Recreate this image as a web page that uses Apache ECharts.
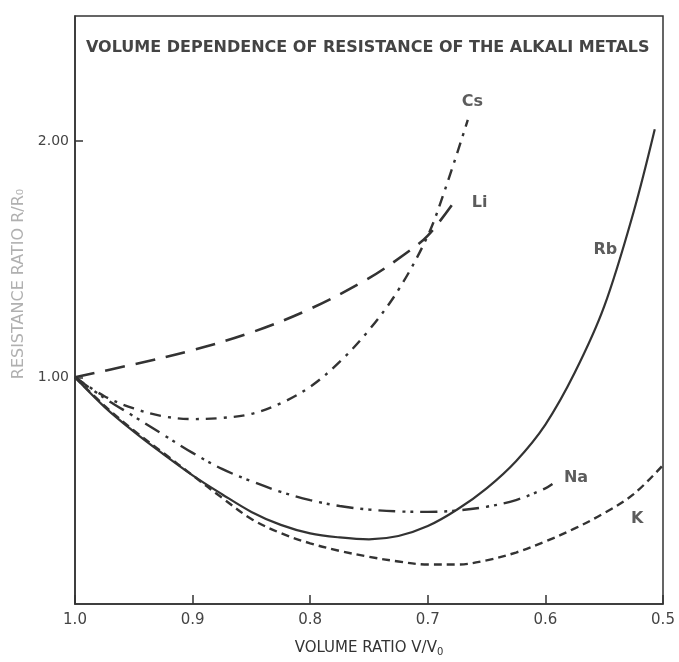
<!DOCTYPE html>
<html><head><meta charset="utf-8">
<script src="https://cdn.jsdelivr.net/npm/echarts@6/dist/echarts.min.js"></script>
<style>html,body{margin:0;padding:0;background:#fff}#c{width:679px;height:662px}</style>
</head><body><div id="c"></div>
<script>
// ---- data ----
const xTickValues = [1.0, 0.9, 0.8, 0.7, 0.6, 0.5];
const yTickValues = [1.0, 2.0];

const liV = [1.0, 0.95, 0.9, 0.85, 0.8, 0.75, 0.72, 0.7, 0.678];
const liR = [1.0, 1.055, 1.115, 1.19, 1.29, 1.42, 1.52, 1.6, 1.74];

const csV = [1.0, 0.975, 0.95, 0.925, 0.9, 0.875, 0.85, 0.825, 0.80, 0.775, 0.75, 0.725, 0.70, 0.685, 0.666];
const csR = [1.0, 0.92, 0.868, 0.835, 0.823, 0.828, 0.845, 0.89, 0.96, 1.065, 1.2, 1.37, 1.6, 1.8, 2.09];

const rbV = [1.0, 0.975, 0.95, 0.925, 0.9, 0.875, 0.85, 0.825, 0.8, 0.775, 0.75, 0.725, 0.70, 0.675, 0.65, 0.625, 0.60, 0.575, 0.55, 0.525, 0.507];
const rbR = [1.0, 0.875, 0.77, 0.675, 0.585, 0.505, 0.43, 0.375, 0.339, 0.322, 0.314, 0.328, 0.37, 0.44, 0.53, 0.645, 0.8, 1.02, 1.3, 1.7, 2.05];

const naV = [1.0, 0.975, 0.95, 0.925, 0.9, 0.875, 0.85, 0.825, 0.8, 0.775, 0.75, 0.725, 0.70, 0.675, 0.65, 0.625, 0.60, 0.594];
const naR = [1.0, 0.912, 0.835, 0.757, 0.68, 0.612, 0.56, 0.515, 0.48, 0.455, 0.44, 0.432, 0.43, 0.436, 0.452, 0.48, 0.53, 0.548];

const kV = [1.0, 0.975, 0.95, 0.925, 0.9, 0.875, 0.85, 0.825, 0.8, 0.775, 0.75, 0.725, 0.70, 0.675, 0.65, 0.625, 0.60, 0.575, 0.55, 0.525, 0.501];
const kR = [1.0, 0.88, 0.775, 0.68, 0.585, 0.49, 0.4, 0.34, 0.297, 0.265, 0.24, 0.22, 0.207, 0.207, 0.225, 0.258, 0.305, 0.36, 0.425, 0.505, 0.623];

const labelNames = ['Cs', 'Li', 'Rb', 'Na', 'K'];
const labelV = [0.662, 0.656, 0.549, 0.574, 0.522];
const labelR = [2.167, 1.74, 1.54, 0.575, 0.40];

const titleText = 'VOLUME DEPENDENCE OF RESISTANCE OF THE ALKALI METALS';

// ---- chart ----
const ink = '#333';
const zip = (a, b) => a.map((v, i) => [v, b[i]]);
function line(name, v, r, type, width) {
  return {
    name, type: 'line', data: zip(v, r), smooth: 0.35, symbol: 'none',
    lineStyle: { color: ink, width: width, type: type, cap: 'butt' },
    silent: true
  };
}

const chart = echarts.init(document.getElementById('c'), null, { renderer: 'canvas' });
chart.setOption({
  animation: false,
  backgroundColor: '#fff',
  textStyle: { fontFamily: 'DejaVu Sans' },
  grid: { left: 75, right: 16, top: 16, bottom: 50, show: true, borderColor: ink, borderWidth: 1.5 },
  title: {
    text: titleText, left: 81, top: 35,
    textStyle: { fontFamily: 'DejaVu Sans', fontSize: 16, fontWeight: 'bold', color: '#444' }
  },
  xAxis: {
    type: 'value', min: 0.5, max: 1.0, inverse: true,
    name: 'VOLUME RATIO V/V{s|0}', nameLocation: 'middle', nameGap: 35,
    nameTextStyle: {
      fontFamily: 'DejaVu Sans', fontSize: 15, color: '#333',
      rich: { s: { fontFamily: 'DejaVu Sans', fontSize: 10, color: '#333', verticalAlign: 'bottom', padding: [8, 0, 0, 0] } }
    },
    axisLine: { show: true, lineStyle: { color: ink, width: 1.5 } },
    axisTick: { show: true, inside: true, length: 9, customValues: xTickValues, lineStyle: { color: ink, width: 1.5 } },
    axisLabel: { customValues: xTickValues, formatter: v => v.toFixed(1), fontSize: 15, color: '#444', margin: 9, fontFamily: 'DejaVu Sans' },
    splitLine: { show: false }
  },
  yAxis: {
    type: 'value', min: 0.04, max: 2.53,
    axisLine: { show: true, lineStyle: { color: ink, width: 1.5 } },
    axisTick: { show: true, inside: true, length: 8, customValues: yTickValues, lineStyle: { color: ink, width: 1.5 } },
    axisLabel: { customValues: yTickValues, formatter: v => v.toFixed(2), fontSize: 14, color: '#444', margin: 6, fontFamily: 'DejaVu Sans' },
    splitLine: { show: false }
  },
  graphic: [{
    type: 'text', x: 19, y: 284, rotation: Math.PI / 2,
    style: {
      text: 'RESISTANCE RATIO R/R\u2080', fontFamily: 'DejaVu Sans', fontSize: 16, fill: '#b0b0b0',
      align: 'center', verticalAlign: 'middle'
    }
  }],
  series: [
    line('Li', liV, liR, [20, 11], 2.6),
    line('Cs', csV, csR, [11, 7, 3, 7], 2.4),
    line('Rb', rbV, rbR, 'solid', 2.2),
    line('Na', naV, naR, [17, 7, 3, 5, 3, 7], 2.4),
    line('K', kV, kR, [8, 5], 2.4),
    {
      name: 'labels', type: 'scatter', symbol: 'circle', symbolSize: 1, silent: true,
      itemStyle: { color: 'rgba(0,0,0,0)' },
      data: labelNames.map((n, i) => ({ value: [labelV[i], labelR[i]], name: n })),
      label: {
        show: true, position: 'inside', formatter: p => p.name,
        fontFamily: 'DejaVu Sans', fontWeight: 'bold', fontSize: 16, color: '#333'
      }
    }
  ]
});
</script></body></html>
